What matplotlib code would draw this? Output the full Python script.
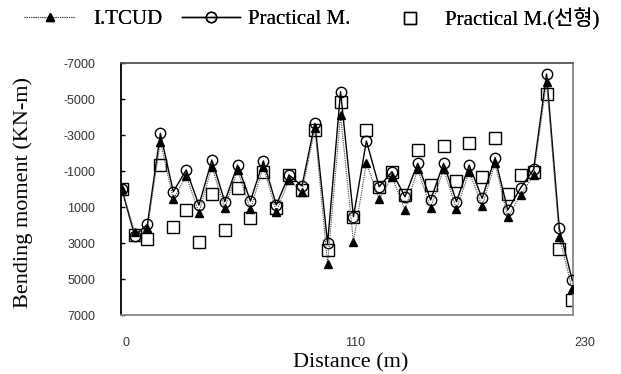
import numpy as np
import matplotlib
matplotlib.use('Agg')
import matplotlib.pyplot as plt
from matplotlib.font_manager import FontProperties

# distances le long du pont (m), 36 sections
distance = [0, 6.6, 13.1, 19.7, 26.3, 32.9, 39.4, 46.0, 52.6, 59.1, 65.7, 72.3,
            78.9, 85.4, 92.0, 98.6, 105.1, 111.7, 118.3, 124.9, 131.4, 138.0,
            144.6, 151.1, 157.7, 164.3, 170.9, 177.4, 184.0, 190.6, 197.1,
            203.7, 210.3, 216.9, 223.4, 230.0]

itcud = [0, 2400, 2190, -2630, 570, -720, 1310, -1240, 1070, -1060, 1130, -1240,
         1260, -500, 150, -3370, 4170, -4110, 2930, -1460, 570, -680, 1170, -1090,
         1040, -1090, 1130, -960, 940, -1430, 1570, 330, -780, -5960, 2650, 5570]

practical = [0, 2600, 1960, -3090, 150, -1060, 890, -1610, 700, -1330, 670, -1560,
             890, -780, -170, -3650, 3020, -5410, 1540, -2670, -130, -960, 430, -1430,
             610, -1430, 700, -1330, 520, -1740, 1170, -70, -1090, -6390, 2190, 5060]

linear = [0, 2550, 2800, -1330, 2090, 1170, 2930, 300, 2280, -70, 1590, -960,
          1070, -780, 60, -3280, 3390, -4850, 1540, -3280, -130, -960, 330, -2170,
          -220, -2390, -460, -2570, -680, -2850, 280, -780, -960, -5280, 3350, 6170]

yticks = [-7000, -5000, -3000, -1000, 1000, 3000, 5000, 7000]
ytick_labels = ['-7000', '-5000', '-3000', '-1000', '1000', '3000', '5000', '7000']
xtick_labels = ['0', '110', '230']
xtick_pos = [2.2, 119.4, 236.4]   # etiquettes decalees comme dans l'original

W, H = 621, 374
serif = ['Liberation Serif', 'Noto Sans CJK KR']
fp_leg = FontProperties(family=serif, size=15)
fp_lab = FontProperties(family=serif, size=16)
fp_tick = FontProperties(family=['Liberation Sans'], size=9)

fig = plt.figure(figsize=(W/100, H/100), dpi=100)
ax = fig.add_axes([121/W, 1-315/H, 452/W, 252/H])

l_lin, = ax.plot(distance, linear, linestyle='none', marker='s', markersize=8,
                 markerfacecolor='none', markeredgecolor='black', markeredgewidth=1,
                 zorder=2)
l_pra, = ax.plot(distance, practical, color='black', lw=1, marker='o', markersize=7.5,
                 markerfacecolor='none', markeredgecolor='black', markeredgewidth=1,
                 zorder=3)
l_itc, = ax.plot(distance, itcud, color='#444444', lw=0.8, linestyle=(0, (1, 1)),
                 marker='^', markersize=5.5, markerfacecolor='black',
                 markeredgecolor='black', zorder=4)

ax.set_xlim(-0.4, 230.4)
ax.set_ylim(7000, -7000)
ax.set_yticks(yticks)
ax.set_yticklabels(ytick_labels)
ax.set_xticks([])
ax.tick_params(axis='y', direction='in', length=3, width=1, pad=18.5, colors='black',
               labelcolor='#333333')
for lbl in ax.get_yticklabels():
    lbl.set_fontproperties(fp_tick)

for xp, t in zip(xtick_pos, xtick_labels):
    ax.text(xp, -0.11, t, transform=ax.get_xaxis_transform(), ha='center',
            va='center', fontproperties=fp_tick, color='#333333')

ax.spines['left'].set_color('black')
ax.spines['top'].set_color('#555555')
ax.spines['right'].set_color('#888888')
ax.spines['bottom'].set_color('#888888')
for s in ax.spines.values():
    s.set_linewidth(1.3)

fig.text(23/W, 1-192/H, 'Bending moment (KN-m)', rotation=90, ha='center',
         va='center', fontproperties=fp_lab)
fig.text(351/W, 1-363/H, 'Distance (m)', ha='center', va='center',
         fontproperties=fp_lab)

# legende en trois morceaux, espacements comme dans l'original
entries = [(l_itc, 'I.TCUD', 24, 2.45, 0.85),
           (l_pra, 'Practical M.', 182, 2.8, 0.38),
           (l_lin, 'Practical M.(선형)', 384, 2.45, 0.5)]
for hdl, txt, x0, hl, tp in entries:
    leg = fig.legend([hdl], [txt], loc='center left', bbox_to_anchor=(x0/W, 1-19/H),
                     frameon=False, prop=fp_leg, handlelength=hl, handletextpad=tp,
                     borderpad=0, borderaxespad=0)
    fig.add_artist(leg)

fig.savefig('out.png', dpi=100)
